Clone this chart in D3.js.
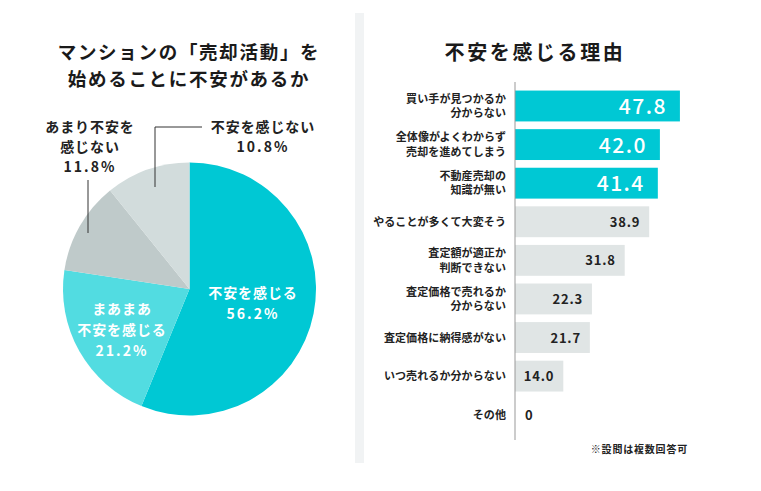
<!DOCTYPE html>
<html><head><meta charset="utf-8">
<script src="https://cdn.jsdelivr.net/npm/d3@7"></script>
<style>
html,body{margin:0;padding:0;background:#fff;}
svg{display:block;font-family:"Noto Sans CJK JP","Noto Sans",sans-serif;}
</style></head>
<body><svg id="c" width="761" height="491"></svg>
<script>
// ---- data ----
const pieTitle = ["マンションの「売却活動」を", "始めることに不安があるか"];
const pieLabels = [["不安を感じる"], ["まあまあ", "不安を感じる"], ["あまり不安を", "感じない"], ["不安を感じない"]];
const pieValues = [56.2, 21.2, 11.8, 10.8];
const pieColors = ["#00c8d4", "#52dce1", "#bfcaca", "#d2dcdc"];

const barTitle = "不安を感じる理由";
const barCategories = [
  ["買い手が見つかるか", "分からない"],
  ["全体像がよくわからず", "売却を進めてしまう"],
  ["不動産売却の", "知識が無い"],
  ["やることが多くて大変そう"],
  ["査定額が適正か", "判断できない"],
  ["査定価格で売れるか", "分からない"],
  ["査定価格に納得感がない"],
  ["いつ売れるか分からない"],
  ["その他"]
];
const barValues = [47.8, 42.0, 41.4, 38.9, 31.8, 22.3, 21.7, 14.0, 0];
const barValueLabels = ["47.8", "42.0", "41.4", "38.9", "31.8", "22.3", "21.7", "14.0", "0"];
const highlightCount = 3;
const footnote = "※設問は複数回答可";

// ---- drawing ----
const svg = d3.select("#c");

// divider band
svg.append("rect").attr("x", 355).attr("y", 13).attr("width", 9).attr("height", 450).attr("fill", "#f1f3f4");

// ---------- PIE ----------
const cx = 189.5, cy = 289, R = 126.5;
const g = svg.append("g").attr("transform", `translate(${cx},${cy})`);
const pie = d3.pie().sort(null).value(d => d)(pieValues);
const arc = d3.arc().innerRadius(0).outerRadius(R);
g.selectAll("path.s").data(pie).enter().append("path")
  .attr("d", arc).attr("fill", (d, i) => pieColors[i]);

// left title
pieTitle.forEach((s, i) => {
  svg.append("text").attr("x", 189).attr("y", 58.5 + i * 27).attr("text-anchor", "middle")
    .attr("font-size", 18.5).attr("font-weight", 700).attr("fill", "#1a1a1a").attr("letter-spacing", 1.7)
    .text(s);
});

// pie labels (layout positions)
const pieLabelLayout = [
  {x: 253, y: 298, color: "#fff", lh: 21},
  {x: 122, y: 314, color: "#fff", lh: 21},
  {x: 90,  y: 132, color: "#222", lh: 20},
  {x: 263, y: 132, color: "#222", lh: 20}
];
pieLabels.forEach((lines, i) => {
  const L = pieLabelLayout[i];
  const t = svg.append("text").attr("text-anchor", "middle").attr("font-size", 14)
    .attr("font-weight", 700).attr("fill", L.color);
  const all = lines.concat([d3.format(".1f")(pieValues[i]) + "%"]);
  all.forEach((s, j) => {
    t.append("tspan").attr("x", L.x).attr("y", L.y + j * L.lh).text(s)
      .attr("letter-spacing", j === all.length - 1 ? 2 : 0.9);
  });
});

// leader lines
const leaders = [
  [[88, 180], [88, 233]],
  [[202, 127], [155, 127], [155, 187]]
];
leaders.forEach(pts => {
  svg.append("path").attr("d", d3.line()(pts)).attr("fill", "none")
    .attr("stroke", "#333").attr("stroke-width", 1);
});

// ---------- BARS ----------
const x0 = 515;
const x = d3.scaleLinear().domain([0, 50]).range([x0, x0 + 172.5]);
const y = d3.scaleBand().domain(barCategories.map((d, i) => i)).range([86.7, 434]).paddingInner(0.2).paddingOuter(0.1);

svg.append("text").attr("x", 535).attr("y", 60).attr("text-anchor", "middle")
  .attr("font-size", 20).attr("font-weight", 700).attr("fill", "#1a1a1a").attr("letter-spacing", 2.6)
  .text(barTitle);

svg.selectAll("rect.bar").data(barValues).enter().append("rect")
  .attr("x", x0).attr("y", (d, i) => y(i)).attr("width", d => x(d) - x0)
  .attr("height", y.bandwidth())
  .attr("fill", (d, i) => i < highlightCount ? "#00c8d4" : "#e0e5e5");

// axis line
svg.append("line").attr("x1", x0).attr("x2", x0).attr("y1", 82).attr("y2", 440)
  .attr("stroke", "#999").attr("stroke-width", 1);

// value labels
barValues.forEach((v, i) => {
  const big = i < highlightCount;
  const cyb = y(i) + y.bandwidth() / 2;
  const t = svg.append("text").text(barValueLabels[i]);
  if (v === 0) {
    t.attr("x", x0 + 10).attr("y", cyb + 5).attr("font-size", 13).attr("font-weight", 700).attr("fill", "#222");
  } else if (big) {
    t.attr("x", x(v) - 13).attr("y", cyb + 8).attr("text-anchor", "end").attr("font-size", 21)
      .attr("font-weight", 500).attr("fill", "#fff").attr("letter-spacing", 1.5);
  } else {
    t.attr("x", x(v) - 9).attr("y", cyb + 5).attr("text-anchor", "end").attr("font-size", 13)
      .attr("font-weight", 700).attr("fill", "#222").attr("letter-spacing", 0.8);
  }
});

// category labels
barCategories.forEach((lines, i) => {
  const cyb = y(i) + y.bandwidth() / 2;
  const lh = 14.5;
  const t = svg.append("text").attr("text-anchor", "end").attr("font-size", 11)
    .attr("font-weight", 700).attr("fill", "#222").attr("letter-spacing", 0.1);
  lines.forEach((s, j) => {
    t.append("tspan").attr("x", 506).attr("y", cyb + 4 + (j - (lines.length - 1) / 2) * lh).text(s);
  });
});

svg.append("text").attr("x", 688).attr("y", 453).attr("text-anchor", "end")
  .attr("font-size", 10).attr("font-weight", 700).attr("fill", "#222").attr("letter-spacing", 0.8)
  .text(footnote);
</script></body></html>
